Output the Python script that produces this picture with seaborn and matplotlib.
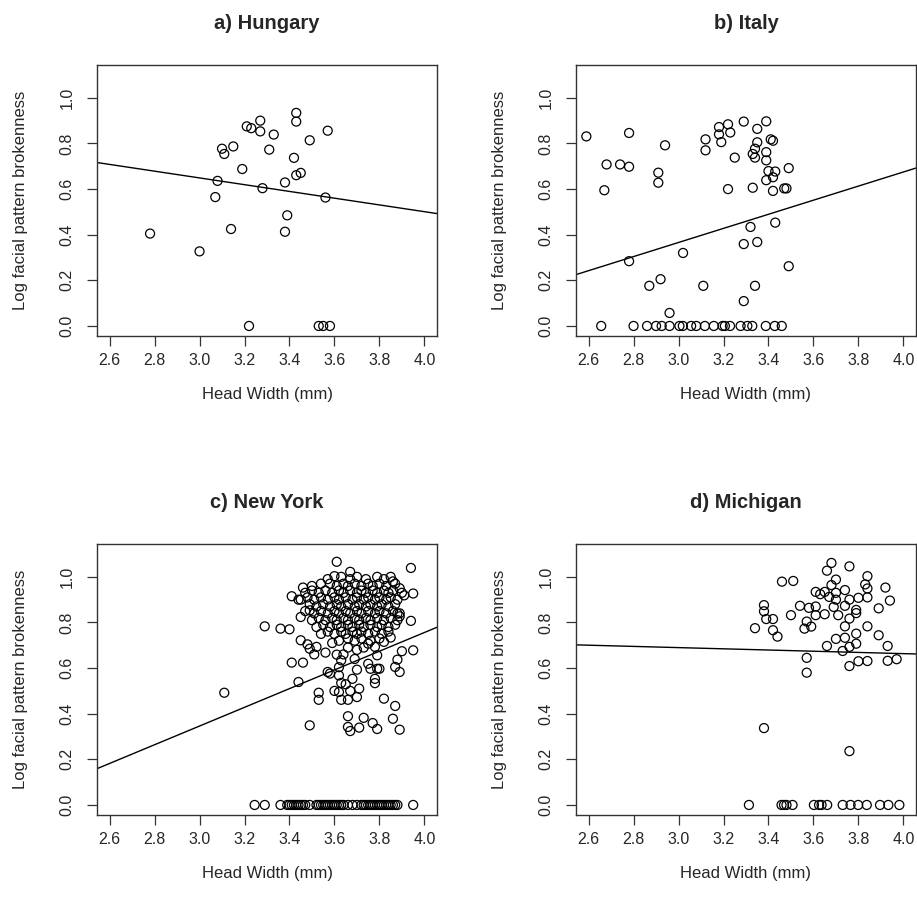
"""Head width vs log facial pattern brokenness, four populations."""

import matplotlib
matplotlib.use("Agg")
import matplotlib.pyplot as plt
import seaborn as sns

# ---- a) Hungary
hun_x = [2.78, 3.00, 3.07, 3.08, 3.10, 3.11, 3.14, 3.15, 3.19, 3.21, 3.23, 3.27, 3.27,
         3.22, 3.28, 3.31, 3.33, 3.38, 3.38, 3.39, 3.42, 3.43, 3.43, 3.43, 3.45, 3.49,
         3.53, 3.55, 3.58, 3.56, 3.57]
hun_y = [0.405, 0.327, 0.565, 0.636, 0.777, 0.754, 0.425, 0.787, 0.688, 0.875, 0.867, 0.900, 0.853,
         0.0, 0.604, 0.773, 0.839, 0.629, 0.413, 0.485, 0.737, 0.934, 0.896, 0.661, 0.671, 0.814,
         0.0, 0.0, 0.0, 0.563, 0.856]

# ---- b) Italy
ita_x = [2.59, 2.67, 2.656, 2.68, 2.74, 2.78, 2.78, 2.78, 2.80, 2.86, 2.90, 2.925, 2.96,
         2.87, 2.92, 2.91, 2.91, 2.94, 2.96, 3.004, 3.019, 3.056, 3.079, 3.117, 3.157, 3.02,
         3.12, 3.12, 3.11, 3.196, 3.206, 3.229, 3.18, 3.18, 3.19, 3.22, 3.23, 3.22, 3.25,
         3.276, 3.306, 3.328, 3.29, 3.29, 3.29, 3.32, 3.33, 3.33, 3.34, 3.34, 3.35, 3.35,
         3.35, 3.34, 3.388, 3.428, 3.459, 3.39, 3.39, 3.39, 3.39, 3.40, 3.41, 3.42, 3.42,
         3.42, 3.43, 3.43, 3.47, 3.48, 3.49, 3.49]
ita_y = [0.831, 0.595, 0.0, 0.708, 0.708, 0.698, 0.846, 0.284, 0.0, 0.0, 0.0, 0.0, 0.0,
         0.176, 0.205, 0.672, 0.628, 0.792, 0.057, 0.0, 0.0, 0.0, 0.0, 0.0, 0.0, 0.320,
         0.818, 0.770, 0.176, 0.0, 0.0, 0.0, 0.840, 0.872, 0.806, 0.884, 0.848, 0.600, 0.738,
         0.0, 0.0, 0.0, 0.896, 0.359, 0.109, 0.434, 0.754, 0.606, 0.738, 0.777, 0.805, 0.864,
         0.368, 0.176, 0.0, 0.0, 0.0, 0.897, 0.762, 0.726, 0.639, 0.679, 0.818, 0.812, 0.652,
         0.592, 0.677, 0.453, 0.603, 0.603, 0.692, 0.262]

# ---- c) New York (scattered points around the main cloud)
ny_edge_x = [3.11, 3.29, 3.36, 3.40, 3.41, 3.46, 3.44, 3.49, 3.45, 3.41, 3.44, 3.46, 3.49,
             3.45, 3.48, 3.49, 3.51, 3.52, 3.56, 3.57, 3.58, 3.59, 3.61, 3.63, 3.62, 3.62,
             3.63, 3.60, 3.62, 3.63, 3.66, 3.67, 3.65, 3.68, 3.70, 3.70, 3.71, 3.53, 3.53,
             3.66, 3.66, 3.67, 3.71, 3.73, 3.77, 3.79, 3.82, 3.87, 3.86, 3.89, 3.75, 3.76,
             3.78, 3.78, 3.79, 3.79, 3.80, 3.87, 3.89, 3.88, 3.90, 3.95, 3.94, 3.95, 3.94,
             3.61, 3.67, 3.60, 3.91, 3.88, 3.89, 3.85, 3.82, 3.78, 3.75]
ny_edge_y = [0.492, 0.783, 0.773, 0.770, 0.624, 0.624, 0.539, 0.349, 0.722, 0.915, 0.900, 0.953, 0.853,
             0.824, 0.704, 0.685, 0.660, 0.693, 0.668, 0.583, 0.576, 0.710, 0.659, 0.634, 0.604, 0.568,
             0.535, 0.500, 0.495, 0.461, 0.461, 0.500, 0.529, 0.553, 0.593, 0.473, 0.510, 0.492, 0.461,
             0.389, 0.342, 0.324, 0.339, 0.382, 0.359, 0.333, 0.466, 0.434, 0.378, 0.330, 0.619, 0.597,
             0.553, 0.534, 0.597, 0.656, 0.597, 0.605, 0.583, 0.637, 0.674, 0.678, 0.807, 0.927, 1.039,
             1.066, 1.022, 1.003, 0.919, 0.839, 0.827, 0.734, 0.715, 0.693, 0.707]

# ---- c) New York (dense cloud)
ny_core_x = [3.57, 3.63, 3.67, 3.70, 3.74, 3.79, 3.82, 3.85, 3.86,
             3.50, 3.54, 3.58, 3.61, 3.64, 3.66, 3.69, 3.72, 3.75, 3.77, 3.80, 3.83, 3.87, 3.89,
             3.47, 3.50, 3.53, 3.56, 3.59, 3.62, 3.64, 3.67, 3.70, 3.72, 3.74, 3.77, 3.79, 3.82,
             3.84, 3.86, 3.90,
             3.45, 3.48, 3.51, 3.54, 3.57, 3.60, 3.62, 3.65, 3.68, 3.70, 3.73, 3.75, 3.78, 3.80,
             3.83, 3.85, 3.88,
             3.49, 3.52, 3.55, 3.58, 3.61, 3.63, 3.66, 3.69, 3.71, 3.74, 3.76, 3.79, 3.81, 3.84, 3.87,
             3.47, 3.51, 3.54, 3.57, 3.60, 3.62, 3.65, 3.67, 3.70, 3.72, 3.75, 3.78, 3.80, 3.83,
             3.86, 3.89,
             3.50, 3.53, 3.56, 3.59, 3.61, 3.64, 3.66, 3.69, 3.71, 3.74, 3.76, 3.79, 3.82, 3.85, 3.88,
             3.52, 3.55, 3.58, 3.61, 3.63, 3.66, 3.68, 3.71, 3.73, 3.76, 3.79, 3.81, 3.84, 3.87,
             3.54, 3.57, 3.60, 3.63, 3.65, 3.68, 3.70, 3.72, 3.75, 3.78, 3.81, 3.84,
             3.62, 3.66, 3.69, 3.72, 3.76, 3.80,
             3.66, 3.70, 3.73, 3.64, 3.69]
ny_core_y = [0.99, 1.00, 0.99, 1.00, 0.99, 1.00, 0.99, 1.00, 0.98,
             0.96, 0.97, 0.97, 0.96, 0.97, 0.96, 0.97, 0.96, 0.97, 0.96, 0.97, 0.96, 0.97, 0.95,
             0.93, 0.94, 0.93, 0.94, 0.93, 0.94, 0.93, 0.94, 0.93, 0.94, 0.93, 0.94, 0.93, 0.94,
             0.93, 0.94, 0.93,
             0.90, 0.91, 0.90, 0.91, 0.90, 0.91, 0.90, 0.91, 0.90, 0.91, 0.90, 0.91, 0.90, 0.91,
             0.90, 0.91, 0.90,
             0.88, 0.87, 0.88, 0.87, 0.88, 0.87, 0.88, 0.87, 0.88, 0.87, 0.88, 0.87, 0.88, 0.87, 0.88,
             0.85, 0.84, 0.85, 0.84, 0.85, 0.84, 0.85, 0.84, 0.85, 0.84, 0.85, 0.84, 0.85, 0.84,
             0.85, 0.84,
             0.81, 0.82, 0.81, 0.82, 0.81, 0.82, 0.81, 0.82, 0.81, 0.82, 0.81, 0.82, 0.81, 0.82, 0.81,
             0.78, 0.79, 0.78, 0.79, 0.78, 0.79, 0.78, 0.79, 0.78, 0.79, 0.78, 0.79, 0.78, 0.79,
             0.75, 0.76, 0.75, 0.76, 0.75, 0.76, 0.75, 0.76, 0.75, 0.76, 0.75, 0.76,
             0.72, 0.73, 0.72, 0.73, 0.72, 0.73,
             0.69, 0.68, 0.69, 0.66, 0.64]

# ---- c) New York (zero brokenness)
ny_zero_x = [3.245, 3.29, 3.36, 3.39, 3.40, 3.41, 3.42, 3.43, 3.44, 3.45, 3.46, 3.47, 3.49,
             3.52, 3.53, 3.54, 3.55, 3.56, 3.57, 3.58, 3.59, 3.60, 3.61, 3.62, 3.63, 3.64,
             3.66, 3.68, 3.70, 3.72, 3.73, 3.74, 3.75, 3.76, 3.77, 3.78, 3.79, 3.80, 3.81,
             3.82, 3.83, 3.84, 3.85, 3.86, 3.87, 3.88, 3.95]

# ---- d) Michigan
mich_x = [3.34, 3.38, 3.38, 3.39, 3.42, 3.42, 3.44, 3.46, 3.51, 3.50, 3.54, 3.56, 3.57,
          3.59, 3.57, 3.57, 3.38, 3.58, 3.61, 3.61, 3.61, 3.63, 3.65, 3.65, 3.66, 3.68,
          3.67, 3.68, 3.70, 3.70, 3.70, 3.70, 3.69, 3.71, 3.66, 3.73, 3.74, 3.74, 3.74,
          3.74, 3.76, 3.76, 3.76, 3.76, 3.76, 3.76, 3.79, 3.79, 3.79, 3.79, 3.80, 3.80,
          3.83, 3.84, 3.84, 3.84, 3.84, 3.84, 3.89, 3.89, 3.92, 3.94, 3.93, 3.93, 3.97,
          3.313, 3.458, 3.469, 3.48, 3.507, 3.602, 3.625, 3.636, 3.661, 3.73, 3.765, 3.799,
          3.837, 3.896, 3.933, 3.982]
mich_y = [0.775, 0.876, 0.849, 0.815, 0.815, 0.766, 0.738, 0.979, 0.982, 0.832, 0.873, 0.773, 0.804,
          0.782, 0.645, 0.580, 0.337, 0.864, 0.934, 0.870, 0.832, 0.924, 0.934, 0.836, 1.027, 1.061,
          0.912, 0.964, 0.988, 0.930, 0.900, 0.728, 0.868, 0.832, 0.697, 0.675, 0.942, 0.873, 0.783,
          0.733, 1.046, 0.900, 0.817, 0.693, 0.609, 0.236, 0.855, 0.841, 0.751, 0.707, 0.630, 0.908,
          0.967, 1.003, 0.949, 0.910, 0.783, 0.631, 0.862, 0.744, 0.953, 0.896, 0.697, 0.632, 0.639,
          0.0, 0.0, 0.0, 0.0, 0.0, 0.0, 0.0, 0.0, 0.0, 0.0, 0.0, 0.0,
          0.0, 0.0, 0.0, 0.0]

# fitted regression lines (intercept, slope)
fit_intercepts = [1.093, -0.561, -0.884, 0.769]
fit_slopes = [-0.148, 0.309, 0.410, -0.0264]

titles = ["a) Hungary", "b) Italy", "c) New York", "d) Michigan"]
x_ticks = [2.6, 2.8, 3.0, 3.2, 3.4, 3.6, 3.8, 4.0]
y_ticks = [0.0, 0.2, 0.4, 0.6, 0.8, 1.0]

ny_x = ny_edge_x + ny_core_x + ny_zero_x
ny_y = ny_edge_y + ny_core_y + [0.0] * len(ny_zero_x)

sns.set_style("ticks")
plt.rcParams["font.family"] = ["Liberation Sans", "DejaVu Sans"]

fig = plt.figure(figsize=(9.17, 9.06), dpi=100)
W, H = 917, 906
# axes boxes in pixels: left, top
boxes = [(97, 65), (576, 65), (97, 544), (576, 544)]
bw, bh = 340, 271

series = [(hun_x, hun_y), (ita_x, ita_y), (ny_x, ny_y), (mich_x, mich_y)]

for i, ((xs, ys), (bx, by)) in enumerate(zip(series, boxes)):
    ax = fig.add_axes([bx / W, 1 - (by + bh) / H, bw / W, bh / H])
    sns.scatterplot(x=xs, y=ys, ax=ax, marker="o", s=42, facecolors="none",
                    edgecolor="black", linewidth=0.9, legend=False)
    ax.axline((0, fit_intercepts[i]), slope=fit_slopes[i], color="black", lw=1.0)

    ax.set_xlim(2.544, 4.056)
    ax.set_ylim(-0.044, 1.144)
    ax.set_xticks(x_ticks)
    ax.set_xticklabels([f"{t:.1f}" for t in x_ticks])
    ax.set_yticks(y_ticks)
    ax.set_yticklabels([f"{t:.1f}" for t in y_ticks], rotation=90, va="center")
    ax.tick_params(axis="both", direction="out", length=7, width=0.9,
                   labelsize=11.5, color="#333333")
    ax.tick_params(axis="x", pad=5)
    ax.tick_params(axis="y", pad=9)
    for sp in ax.spines.values():
        sp.set_visible(True)
        sp.set_linewidth(1.0)
        sp.set_color("#333333")

    ax.set_xlabel("Head Width (mm)", fontsize=12, labelpad=14)
    ax.set_ylabel("Log facial pattern brokenness", fontsize=12, labelpad=23)
    ax.set_title(titles[i], fontsize=14.5, fontweight="bold", pad=26)

fig.savefig("out.png", dpi=100)
